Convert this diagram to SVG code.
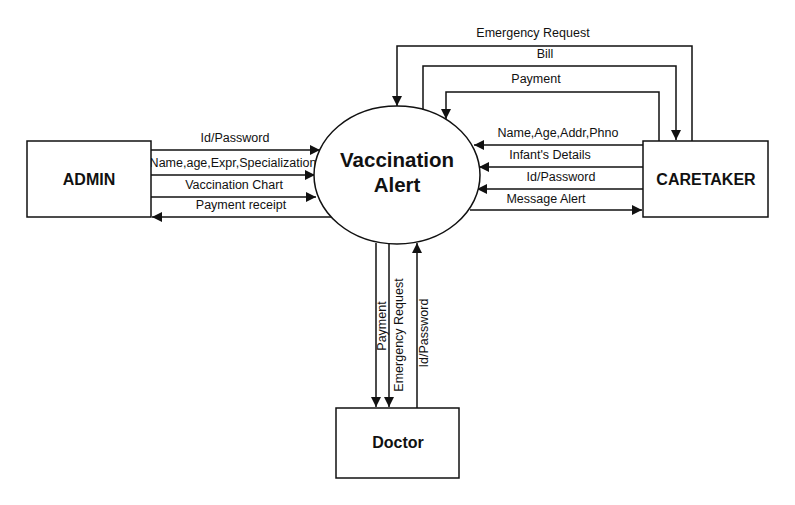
<svg xmlns="http://www.w3.org/2000/svg" width="795" height="505" viewBox="0 0 795 505">
<style>
.box{fill:#fff;stroke:#111;stroke-width:1.5}
.ln{fill:none;stroke:#111;stroke-width:1.5}
.lbl{font-family:"Liberation Sans",Arial,sans-serif;font-size:12.5px;fill:#111}
.nm{font-family:"Liberation Sans",Arial,sans-serif;font-size:16px;font-weight:bold;fill:#111;text-anchor:middle}
</style>
<defs>
<marker id="ah" viewBox="0 0 10 10" refX="10" refY="5" markerWidth="10" markerHeight="10" markerUnits="userSpaceOnUse" orient="auto">
<path d="M0,0 L10,5 L0,10 Z" fill="#111"/>
</marker>
</defs>
<rect width="795" height="505" fill="#fff"/>
<g id="connectors">
<line class="ln" x1="151" y1="150" x2="320" y2="150" marker-end="url(#ah)"/>
<line class="ln" x1="151" y1="175" x2="315" y2="175" marker-end="url(#ah)"/>
<line class="ln" x1="151" y1="197" x2="316" y2="197" marker-end="url(#ah)"/>
<line class="ln" x1="331" y1="217" x2="152" y2="217" marker-end="url(#ah)"/>
<line class="ln" x1="643" y1="145" x2="474" y2="145" marker-end="url(#ah)"/>
<line class="ln" x1="643" y1="167" x2="479" y2="167" marker-end="url(#ah)"/>
<line class="ln" x1="643" y1="189" x2="477" y2="189" marker-end="url(#ah)"/>
<line class="ln" x1="470" y1="210" x2="642" y2="210" marker-end="url(#ah)"/>
<polyline class="ln" points="692,141 692,46 397,46 397,106" marker-end="url(#ah)"/>
<polyline class="ln" points="423,110 423,66 676,66 676,140" marker-end="url(#ah)"/>
<polyline class="ln" points="659,141 659,92 446,92 446,119" marker-end="url(#ah)"/>
<line class="ln" x1="376" y1="243" x2="376" y2="407" marker-end="url(#ah)"/>
<line class="ln" x1="389" y1="244" x2="389" y2="407" marker-end="url(#ah)"/>
<line class="ln" x1="417" y1="408" x2="417" y2="243" marker-end="url(#ah)"/>
<text class="lbl" x="235" y="142" text-anchor="middle">Id/Password</text>
<text class="lbl" x="233" y="167" text-anchor="middle">Name,age,Expr,Specialization</text>
<text class="lbl" x="234" y="189" text-anchor="middle">Vaccination Chart</text>
<text class="lbl" x="241" y="209" text-anchor="middle">Payment receipt</text>
<text class="lbl" x="558" y="137" text-anchor="middle">Name,Age,Addr,Phno</text>
<text class="lbl" x="550" y="159" text-anchor="middle">Infant's Details</text>
<text class="lbl" x="561" y="181" text-anchor="middle">Id/Password</text>
<text class="lbl" x="546" y="203" text-anchor="middle">Message Alert</text>
<text class="lbl" x="533" y="37" text-anchor="middle">Emergency Request</text>
<text class="lbl" x="545" y="58" text-anchor="middle">Bill</text>
<text class="lbl" x="536" y="83" text-anchor="middle">Payment</text>
<text class="lbl" transform="translate(386,326) rotate(-90)" text-anchor="middle">Payment</text>
<text class="lbl" transform="translate(403,335) rotate(-90)" text-anchor="middle">Emergency Request</text>
<text class="lbl" transform="translate(428,333) rotate(-90)" text-anchor="middle">Id/Password</text>
</g>
<g id="admin">
<rect class="box" x="27" y="141" width="124" height="76"/>
<text class="nm" x="89" y="185">ADMIN</text>
</g>
<g id="caretaker">
<rect class="box" x="643" y="141" width="125" height="76"/>
<text class="nm" x="706" y="185">CARETAKER</text>
</g>
<g id="doctor">
<rect class="box" x="336" y="408" width="123" height="70"/>
<text class="nm" x="398" y="448">Doctor</text>
</g>
<g id="vaccination-alert">
<ellipse class="box" cx="397" cy="175" rx="83" ry="69"/>
<text class="nm" x="397" y="167" style="font-size:20.5px">Vaccination</text>
<text class="nm" x="397" y="192" style="font-size:20.5px">Alert</text>
</g>
</svg>
